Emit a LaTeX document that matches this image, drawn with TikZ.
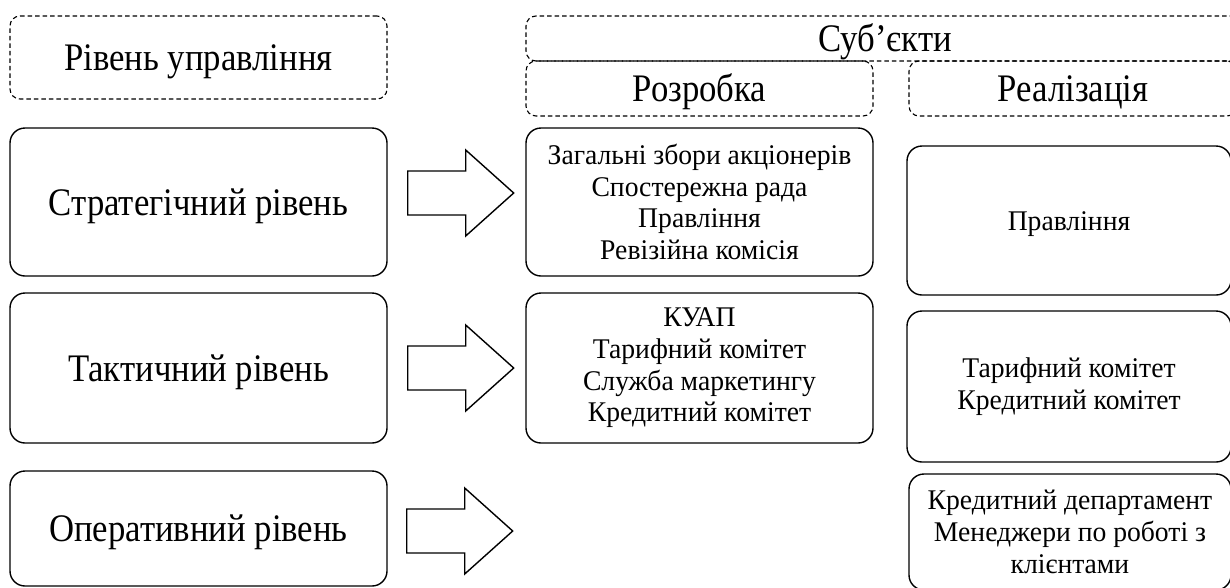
\documentclass[tikz,border=0pt]{standalone}
\usepackage{fontspec}
\setmainfont{Liberation Serif}
\newfontfamily\bigserif{Liberation Serif}[FakeStretch=0.89]
\newfontfamily\smallserif{Liberation Serif}[FakeStretch=0.97]
\usetikzlibrary{calc}
\newcommand\blkarrow[1]{%
  \draw[blockarrow] ($(#1)+(0,-22)$) -- ++(58,0) -- ++(0,-21) -- ++(48,43)
    -- ++(-48,43) -- ++(0,-21) -- ++(-58,0) -- cycle;}
\begin{document}
\begin{tikzpicture}[x=1pt,y=-1pt,
  big/.style={font=\bigserif\fontsize{39}{46}\selectfont, text height=26pt, text depth=0pt},
  small/.style={font=\smallserif\fontsize{28.5}{31.7}\selectfont},
  oneline/.style={text height=19pt, text depth=0pt},
  solidbox/.style={draw, line width=1.4pt, rounded corners=15pt, align=center, inner sep=0pt},
  dashbox/.style={draw, line width=1.1pt, dash pattern=on 4.5pt off 3pt, rounded corners=10pt, align=center, inner sep=0pt},
  blockarrow/.style={draw, line width=1.4pt, fill=white, line join=miter}]
\useasboundingbox (0,0) rectangle (1230,587);
\clip (0,0) rectangle (1230,587);
% headers
\node[dashbox, big, minimum width=377pt, minimum height=83pt] (hlev) at (198.5,57.5) {Рівень управління};
\node[dashbox, big, minimum width=718pt, minimum height=45pt] (hsub) at (885,38.5) {Суб’єкти};
\node[dashbox, big, minimum width=347pt, minimum height=55pt] (hdev) at (699.5,88.5) {Розробка};
\node[dashbox, big, minimum width=328pt, minimum height=55pt] (hreal) at (1073,88.5) {Реалізація};
% levels
\node[solidbox, big, minimum width=377pt, minimum height=148pt] (s1) at (198.5,202) {Стратегічний рівень};
\node[solidbox, big, minimum width=377pt, minimum height=150pt] (s2) at (198.5,368) {Тактичний рівень};
\node[solidbox, big, minimum width=377pt, minimum height=115pt] (s3) at (198.5,528.5) {Оперативний рівень};
% development
\node[solidbox, small, minimum width=347pt, minimum height=148pt] (d1) at (699.5,202)
  {Загальні збори акціонерів\\Спостережна рада\\Правління\\Ревізійна комісія};
\node[solidbox, small, minimum width=347pt, minimum height=150pt] (d2) at (699.5,368)
  {КУАП\\Тарифний комітет\\Служба маркетингу\\Кредитний комітет};
% realisation
\node[solidbox, small, oneline, minimum width=324pt, minimum height=149pt] (r1) at (1069,220.5) {Правління};
\node[solidbox, small, minimum width=324pt, minimum height=151pt] (r2) at (1069,386.5) {Тарифний комітет\\Кредитний комітет};
\node[solidbox, small, minimum width=322pt, minimum height=116pt] (r3) at (1070,532)
  {Кредитний департамент\\Менеджери по роботі з\\клієнтами};
% block arrows
\coordinate (a1) at ($(s1.east)+(20,-9)$);
\coordinate (a2) at ($(s2.east)+(20,0)$);
\coordinate (a3) at ($(s3.east)+(19,2.5)$);
\blkarrow{a1}
\blkarrow{a2}
\blkarrow{a3}
\end{tikzpicture}
\end{document}
